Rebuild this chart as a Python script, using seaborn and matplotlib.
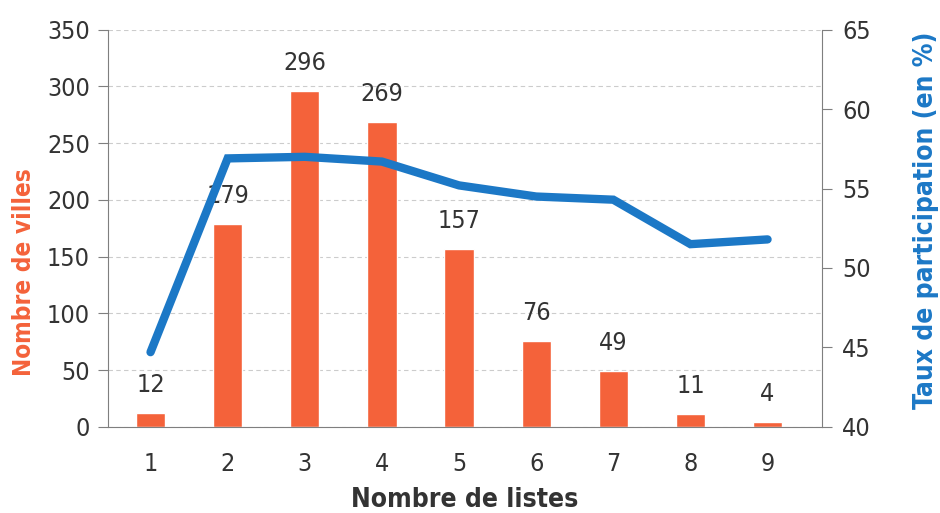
import matplotlib
matplotlib.use('Agg')
import matplotlib.pyplot as plt
from matplotlib import font_manager
import seaborn as sns
import pandas as pd
from matplotlib.ticker import MultipleLocator

# données
nb_listes = [1, 2, 3, 4, 5, 6, 7, 8, 9]
nb_villes = [12, 179, 296, 269, 157, 76, 49, 11, 4]
taux_participation = [44.7, 56.9, 57.0, 56.7, 55.2, 54.5, 54.3, 51.5, 51.8]

df = pd.DataFrame({'listes': nb_listes, 'villes': nb_villes, 'taux': taux_participation})

ORANGE = '#F4623A'
BLEU = '#1C78C6'
GRIS = '#7f7f7f'
TEXTE = '#333333'


def police_etroite(gras=False):
    # cherche une police condensée droite installée (style Arial Narrow)
    for f in font_manager.fontManager.ttflist:
        nom = (f.name + ' ' + f.fname).lower()
        etroite = 'narrow' in nom or 'condensed' in nom or f.stretch in ('condensed', 'semi-condensed')
        if not etroite or f.style != 'normal':
            continue
        if any(m in nom for m in ('extra', 'semi', 'italic', 'oblique', 'light', 'medium', 'black', 'thin')):
            continue
        est_gras = f.weight in ('bold', 700) or 'bold' in f.fname.lower()
        if est_gras == gras:
            return f.fname
    return None


f_norm = police_etroite(False)
f_gras = police_etroite(True)
if f_norm:
    FS = 18
    p_norm = font_manager.FontProperties(fname=f_norm, size=FS)
    p_gras = font_manager.FontProperties(fname=f_gras or f_norm, size=FS + 1)
    p_gauche = font_manager.FontProperties(fname=f_gras or f_norm, size=FS - 0.5)
else:
    FS = 15
    p_norm = font_manager.FontProperties(family='Liberation Sans', size=FS)
    p_gras = font_manager.FontProperties(family='Liberation Sans', weight='bold', size=FS + 1)
    p_gauche = font_manager.FontProperties(family='Liberation Sans', weight='bold', size=FS)

sns.set_style('white')
plt.rcParams['font.family'] = ['Liberation Sans', 'DejaVu Sans']

fig = plt.figure(figsize=(9.4, 5.13), dpi=100)
ax = fig.add_axes([0.115, 0.168, 0.759, 0.774])

sns.barplot(data=df, x='listes', y='villes', native_scale=True, color=ORANGE,
            saturation=1, width=0.38, ax=ax, zorder=2)
for x, v in zip(nb_listes, nb_villes):
    ax.text(x, v + 14, str(v), ha='center', va='bottom', fontproperties=p_norm, color=TEXTE)

ax.set_ylim(0, 350)
ax.set_xlim(0.45, 9.7)
ax.yaxis.set_major_locator(MultipleLocator(50))
ax.set_xticks(nb_listes)
ax.set_xticks([n + 0.5 for n in [0] + nb_listes[:-1]], minor=True)
ax.tick_params(axis='x', which='major', length=0, pad=18, labelcolor=TEXTE)
ax.tick_params(axis='x', which='minor', length=7, color=GRIS, direction='out')
ax.tick_params(axis='y', length=7, color=GRIS, direction='out', labelcolor=TEXTE, pad=6)
ax.yaxis.grid(True, linestyle=(0, (4, 3)), color='#cccccc', linewidth=0.8)
ax.set_axisbelow(True)
for s in ['top', 'right']:
    ax.spines[s].set_visible(False)
ax.spines['left'].set_color(GRIS)
ax.spines['bottom'].set_color(GRIS)
ax.set_xlabel('Nombre de listes', fontproperties=p_gras, color=TEXTE, labelpad=8)
ax.set_ylabel('Nombre de villes', fontproperties=p_gauche, color=ORANGE, labelpad=8)
ax.yaxis.label.set_y(0.39)

ax2 = ax.twinx()
sns.lineplot(data=df, x='listes', y='taux', color=BLEU, linewidth=6, ax=ax2,
             solid_capstyle='round', solid_joinstyle='miter', zorder=3)
ax2.set_ylim(40, 65)
ax2.yaxis.set_major_locator(MultipleLocator(5))
ax2.tick_params(axis='y', length=7, color=GRIS, direction='out', labelcolor=TEXTE, pad=8)
for s in ['top', 'left', 'bottom']:
    ax2.spines[s].set_visible(False)
ax2.spines['right'].set_color(GRIS)
ax2.set_ylabel('Taux de participation (en %)', fontproperties=p_gras, color=BLEU, labelpad=30)
ax2.yaxis.label.set_y(0.52)

for lab in ax.get_xticklabels() + ax.get_yticklabels() + ax2.get_yticklabels():
    lab.set_fontproperties(p_norm)

fig.savefig('out.png', dpi=100)
